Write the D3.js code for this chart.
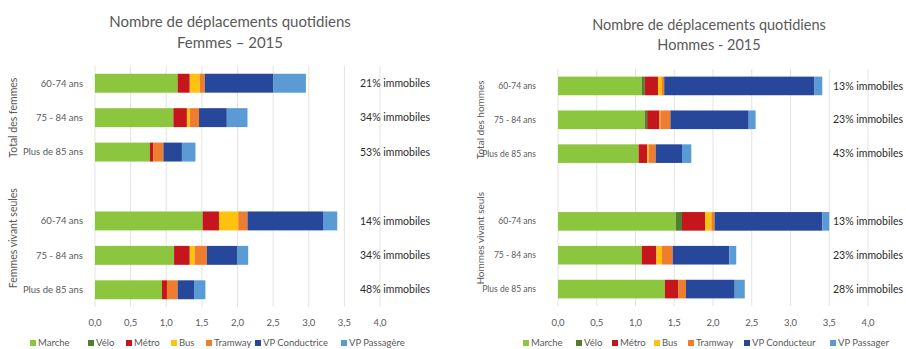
<!DOCTYPE html>
<html>
<head>
<meta charset="utf-8">
<script src="https://cdn.jsdelivr.net/npm/d3@7"></script>
<style>
  body { margin: 0; background: #fff; }
  svg { display: block; }
  text { font-family: Lato, "Open Sans", sans-serif; }
</style>
</head>
<body>
<svg id="chart" width="906" height="349"></svg>
<script>
// ---- data ----
const ages = ["60-74 ans", "75 - 84 ans", "Plus de 85 ans"];
const modesF = ["Marche", "Vélo", "Métro", "Bus", "Tramway", "VP Conductrice", "VP Passagère"];
const modesH = ["Marche", "Vélo", "Métro", "Bus", "Tramway", "VP Conducteur", "VP Passager"];
const modeColors = ["#8cc63e", "#4f7f2f", "#c5161d", "#ffc20e", "#ef7d2d", "#27489a", "#5b9bd5"];
const ticks = [0, 0.5, 1, 1.5, 2, 2.5, 3, 3.5, 4];

// trips per day by mode, one row per age class (same order as modes)
const femmesTotal = [
    [1.16, 0, 0.17, 0.14, 0.07, 0.96, 0.46],
    [1.10, 0, 0.19, 0.04, 0.13, 0.39, 0.29],
    [0.77, 0, 0.05, 0, 0.14, 0.26, 0.19]
];
const femmesSeules = [
    [1.51, 0, 0.23, 0.27, 0.13, 1.06, 0.20],
    [1.11, 0, 0.22, 0.07, 0.17, 0.43, 0.15],
    [0.94, 0, 0.07, 0, 0.15, 0.23, 0.16]
];
const hommesTotal = [
    [1.08, 0.04, 0.17, 0.05, 0.03, 1.94, 0.10],
    [1.12, 0.03, 0.16, 0.01, 0.13, 1.01, 0.09],
    [1.04, 0, 0.11, 0.02, 0.09, 0.34, 0.12]
];
const hommesSeuls = [
    [1.52, 0.08, 0.30, 0.08, 0.04, 1.39, 0.09],
    [1.08, 0, 0.19, 0.07, 0.14, 0.73, 0.09],
    [1.38, 0, 0.17, 0, 0.10, 0.63, 0.13]
];
const immobilesF = [[21, 34, 53], [14, 34, 48]];
const immobilesH = [[13, 23, 43], [13, 23, 28]];

const groupsF = ["Total des femmes", "Femmes vivant seules"];
const groupsH = ["Total des hommes", "Hommes vivant seuls"];

const svg = d3.select("#chart");
const frLocale = d3.formatLocale({ decimal: ",", thousands: " ", grouping: [3], currency: ["", " €"] });
const fmt = frLocale.format(".1f");

function drawPanel(cfg) {
    const g = svg.append("g");

    // rows: group 1 (3 ages), then group 2 with an empty leading slot
    const rowKeys = [];
    const rowData = [];
    cfg.groups.forEach((grp, gi) => {
        if (gi > 0) rowKeys.push("gap" + gi);
        ages.forEach((age, ai) => {
            const key = gi + "|" + age;
            rowKeys.push(key);
            rowData.push({ key, age, gi, values: cfg.series[gi][ai], pct: cfg.pct[gi][ai] });
        });
    });

    const x = d3.scaleLinear().domain([0, 4]).range(cfg.xRange);
    const y = d3.scaleBand().domain(rowKeys).range(cfg.yRange).paddingInner(0.45).paddingOuter(0.225);
    const color = d3.scaleOrdinal().domain(cfg.modes).range(modeColors);

    // title
    g.append("text")
        .attr("x", cfg.titleX).attr("y", cfg.titleY)
        .attr("text-anchor", "middle")
        .style("font-size", cfg.titleSize + "px")
        .style("fill", "#595959")
        .selectAll("tspan")
        .data(cfg.title)
        .join("tspan")
        .attr("x", cfg.titleX)
        .attr("dy", (d, i) => i === 0 ? 0 : cfg.titleSize * 1.38)
        .text(d => d);

    // gridlines
    g.append("g")
        .selectAll("line")
        .data(ticks)
        .join("line")
        .attr("x1", d => x(d)).attr("x2", d => x(d))
        .attr("y1", cfg.yRange[0]).attr("y2", cfg.yRange[1])
        .attr("stroke", "#e3e3e3")
        .attr("stroke-width", 1);

    // x tick labels
    g.append("g")
        .selectAll("text")
        .data(ticks)
        .join("text")
        .attr("x", d => x(d))
        .attr("y", cfg.tickY)
        .attr("text-anchor", "middle")
        .style("font-size", cfg.tickSize + "px")
        .style("fill", "#595959")
        .text(d => fmt(d));

    // stacked bars
    const rows = g.append("g")
        .selectAll("g")
        .data(rowData)
        .join("g");

    rows.selectAll("rect")
        .data(d => {
            let acc = 0;
            return d.values.map((v, i) => {
                const s = { mode: cfg.modes[i], x0: acc, x1: acc + v, key: d.key };
                acc += v;
                return s;
            });
        })
        .join("rect")
        .attr("x", d => x(d.x0))
        .attr("width", d => x(d.x1) - x(d.x0))
        .attr("y", d => y(d.key))
        .attr("height", y.bandwidth())
        .attr("fill", d => color(d.mode));

    // category labels
    g.append("g")
        .selectAll("text")
        .data(rowData)
        .join("text")
        .attr("x", cfg.xRange[0] - cfg.catGap)
        .attr("y", d => y(d.key) + y.bandwidth() / 2)
        .attr("dy", "0.35em")
        .attr("text-anchor", "end")
        .style("font-size", cfg.catSize + "px")
        .style("fill", "#595959")
        .text(d => d.age);

    // group labels (rotated), centred on their slots
    cfg.groups.forEach((grp, gi) => {
        const keys = rowKeys.filter(k => k.startsWith(gi + "|") || k === "gap" + gi);
        const top = d3.min(keys, k => y(k));
        const bottom = d3.max(keys, k => y(k) + y.bandwidth());
        const cy = (top + bottom) / 2;
        g.append("text")
            .attr("transform", `translate(${cfg.groupX},${cy}) rotate(-90)`)
            .attr("text-anchor", "middle")
            .attr("dy", "0.35em")
            .style("font-size", cfg.groupSize + "px")
            .style("fill", "#595959")
            .text(grp);
    });

    // immobiles labels
    g.append("g")
        .selectAll("text")
        .data(rowData)
        .join("text")
        .attr("x", cfg.pctX)
        .attr("y", d => y(d.key) + y.bandwidth() / 2)
        .attr("dy", "0.35em")
        .attr("text-anchor", "middle")
        .style("font-size", cfg.pctSize + "px")
        .style("fill", "#2b2b2b")
        .text(d => d.pct + "% immobiles");

    // legend
    const legend = g.append("g")
        .selectAll("g")
        .data(cfg.modes)
        .join("g")
        .attr("transform", (d, i) => `translate(${cfg.legendX[i]},${cfg.legendY})`);
    legend.append("rect")
        .attr("x", -3).attr("y", -3)
        .attr("width", 6).attr("height", 6)
        .attr("fill", d => color(d));
    legend.append("text")
        .attr("x", 5)
        .attr("dy", "0.35em")
        .style("font-size", cfg.legendSize + "px")
        .style("fill", "#595959")
        .text(d => d);
}

drawPanel({
    title: ["Nombre de déplacements quotidiens", "Femmes – 2015"],
    titleX: 230, titleY: 27, titleSize: 15,
    groups: groupsF, series: [femmesTotal, femmesSeules], pct: immobilesF, modes: modesF,
    xRange: [95, 380], yRange: [66, 307],
    tickY: 326, tickSize: 9.5,
    catGap: 12, catSize: 9.5,
    groupX: 13, groupSize: 10.5,
    pctX: 395, pctSize: 10.5,
    legendX: [33, 91, 129, 174, 209, 258, 344], legendY: 343, legendSize: 9.5
});

drawPanel({
    title: ["Nombre de déplacements quotidiens", "Hommes - 2015"],
    titleX: 709, titleY: 30, titleSize: 14.5,
    groups: groupsH, series: [hommesTotal, hommesSeuls], pct: immobilesH, modes: modesH,
    xRange: [558, 868], yRange: [69, 306],
    tickY: 326, tickSize: 9.5,
    catGap: 22, catSize: 8.5,
    groupX: 480, groupSize: 10,
    pctX: 868, pctSize: 10.5,
    legendX: [526, 579, 615, 657, 691, 747, 833], legendY: 343, legendSize: 9.5
});
</script>
</body>
</html>
